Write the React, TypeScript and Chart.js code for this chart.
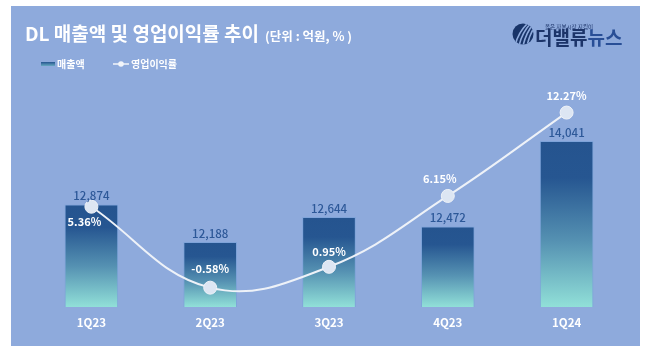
import React, { useEffect, useRef } from "react";
import { Chart, registerables } from "chart.js";

Chart.register(...registerables);

const categories = ["1Q23", "2Q23", "3Q23", "4Q23", "1Q24"];
const revenue = [12874, 12188, 12644, 12472, 14041];
const opMargin = [5.36, -0.58, 0.95, 6.15, 12.27];
const marginLabelOffsets = [
  [-7, 15],
  [0, -19],
  [0, -15],
  [-8, -17],
  [0, -17],
];

const titleText = "DL 매출액 및 영업이익률 추이";
const unitText = "(단위 : 억원, % )";
const legendBar = "매출액";
const legendLine = "영업이익률";

const FONT = '"Noto Sans CJK KR", "Noto Sans", sans-serif';
const PANEL = "rgb(142,170,220)";

function barGradient(c: CanvasRenderingContext2D, top: number, bottom: number) {
  const g = c.createLinearGradient(0, top, 0, bottom);
  g.addColorStop(0, "rgb(37,84,143)");
  g.addColorStop(0.22, "rgb(38,86,145)");
  g.addColorStop(0.6, "rgb(85,145,178)");
  g.addColorStop(1, "rgb(145,224,216)");
  return g;
}

const decorPlugin = {
  id: "decor",
  beforeDraw(chart: any) {
    const c = chart.ctx as CanvasRenderingContext2D;
    c.save();
    c.fillStyle = "#ffffff";
    c.fillRect(0, 0, chart.width, chart.height);
    c.fillStyle = PANEL;
    c.fillRect(11, 6, 629, 340);
    c.restore();
  },
  beforeDatasetsDraw(chart: any) {
    const c = chart.ctx as CanvasRenderingContext2D;
    const meta = chart.getDatasetMeta(0);
    c.save();
    meta.data.forEach((bar: any, i: number) => {
      const right = bar.x + bar.width / 2;
      const bottom = bar.base;
      const big = i === 4 ? 1.3 : 1;
      c.save();
      c.beginPath();
      c.rect(right, 0, 70, bottom - 2);
      c.clip();
      c.filter = "blur(6px)";
      c.fillStyle = "rgba(60,78,130,0.75)";
      c.beginPath();
      c.ellipse(right + 4, bottom - 16 * big, 32 * big, 10 * big, 0, 0, Math.PI * 2);
      c.fill();
      c.restore();
    });
    c.restore();
  },
  afterDraw(chart: any) {
    const c = chart.ctx as CanvasRenderingContext2D;
    c.save();
    // title
    c.textBaseline = "middle";
    c.textAlign = "left";
    c.fillStyle = "#ffffff";
    c.font = `bold 19px ${FONT}`;
    c.fillText(titleText, 25, 34);
    const tw = c.measureText(titleText).width;
    c.font = `bold 12.5px ${FONT}`;
    c.fillText(unitText, 25 + tw + 6, 36);

    // legend
    const lg = c.createLinearGradient(0, 62, 0, 67);
    lg.addColorStop(0, "rgb(37,84,143)");
    lg.addColorStop(1, "rgb(120,190,205)");
    c.fillStyle = lg;
    c.fillRect(41, 62, 14, 4);
    c.fillStyle = "#ffffff";
    c.font = `bold 10px ${FONT}`;
    c.fillText(legendBar, 57, 64);
    c.strokeStyle = "#f2f5fa";
    c.lineWidth = 1.5;
    c.beginPath();
    c.moveTo(113, 64);
    c.lineTo(129, 64);
    c.stroke();
    c.fillStyle = "#f2f5fa";
    c.beginPath();
    c.arc(121, 64, 2.8, 0, Math.PI * 2);
    c.fill();
    c.fillStyle = "#ffffff";
    c.fillText(legendLine, 131, 64);

    // logo
    c.save();
    c.beginPath();
    c.arc(523, 34, 10.5, 0, Math.PI * 2);
    c.clip();
    c.fillStyle = "rgb(24,52,105)";
    c.fillRect(510, 20, 28, 28);
    c.strokeStyle = PANEL;
    c.lineWidth = 1.6;
    for (let k = 0; k < 4; k++) {
      c.beginPath();
      c.moveTo(515 + k * 4, 46);
      c.quadraticCurveTo(518 + k * 4, 32, 529 + k * 3, 22);
      c.stroke();
    }
    c.restore();
    c.fillStyle = "rgb(28,52,105)";
    c.font = `5.5px ${FONT}`;
    c.fillText("옳은 자본시장 지킴이", 545, 27);
    c.font = `bold 19px ${FONT}`;
    c.fillText("더밸류", 535, 38);
    const w1 = c.measureText("더밸류").width;
    c.fillStyle = "rgb(40,78,150)";
    c.fillText("뉴스", 535 + w1, 38);

    // category labels & bar value labels
    const barMeta = chart.getDatasetMeta(0);
    c.textAlign = "center";
    barMeta.data.forEach((bar: any, i: number) => {
      c.fillStyle = "#ffffff";
      c.font = `bold 11.5px ${FONT}`;
      c.fillText(categories[i], bar.x, 323);
      c.fillStyle = "rgb(45,88,152)";
      c.font = `500 11.5px ${FONT}`;
      c.fillText(revenue[i].toLocaleString("en-US"), bar.x, bar.y - 9);
    });

    // margin labels
    const lineMeta = chart.getDatasetMeta(1);
    c.fillStyle = "#ffffff";
    c.font = `bold 11px ${FONT}`;
    lineMeta.data.forEach((pt: any, i: number) => {
      const [dx, dy] = marginLabelOffsets[i];
      c.fillText(opMargin[i].toFixed(2) + "%", pt.x + dx, pt.y + dy);
    });
    c.restore();
  },
};

export default function App() {
  const ref = useRef<HTMLCanvasElement | null>(null);

  useEffect(() => {
    document.body.style.margin = "0";
    const canvas = ref.current;
    if (!canvas) return;
    const chart = new Chart(canvas, {
      type: "bar",
      data: {
        labels: categories,
        datasets: [
          {
            type: "bar",
            label: legendBar,
            data: revenue,
            yAxisID: "y",
            order: 2,
            barThickness: 53,
            borderWidth: 1,
            borderColor: "rgba(120,160,215,0.7)",
            borderSkipped: false,
            backgroundColor: (ctx: any) => {
              const ch = ctx.chart;
              const ca = ch.chartArea;
              if (!ca || ctx.raw == null) return "rgb(37,84,143)";
              const top = ch.scales.y.getPixelForValue(ctx.raw);
              return barGradient(ch.ctx, top, ca.bottom);
            },
          } as any,
          {
            type: "line",
            label: legendLine,
            data: opMargin,
            yAxisID: "y1",
            order: 1,
            borderColor: "#eef2f8",
            borderWidth: 2,
            tension: 0.4,
            pointRadius: 6.5,
            pointBackgroundColor: "#dde6f3",
            pointBorderColor: "#eef2f8",
            pointBorderWidth: 1,
            clip: false,
          } as any,
        ],
      },
      options: {
        animation: false,
        responsive: false,
        maintainAspectRatio: false,
        devicePixelRatio: 1,
        layout: { padding: { left: 32, right: 24, top: 89, bottom: 47 } },
        plugins: {
          legend: { display: false },
          tooltip: { enabled: false },
          title: { display: false },
        },
        scales: {
          x: { display: false, offset: true, grid: { display: false } },
          y: { display: false, min: 11000, max: 15000 },
          y1: { display: false, min: -2, max: 14, position: "right" },
        },
      },
      plugins: [decorPlugin],
    });
    return () => chart.destroy();
  }, []);

  return (
    <div style={{ width: 650, height: 354, position: "relative" }}>
      <canvas ref={ref} width={650} height={354} style={{ display: "block", width: 650, height: 354 }} />
    </div>
  );
}
